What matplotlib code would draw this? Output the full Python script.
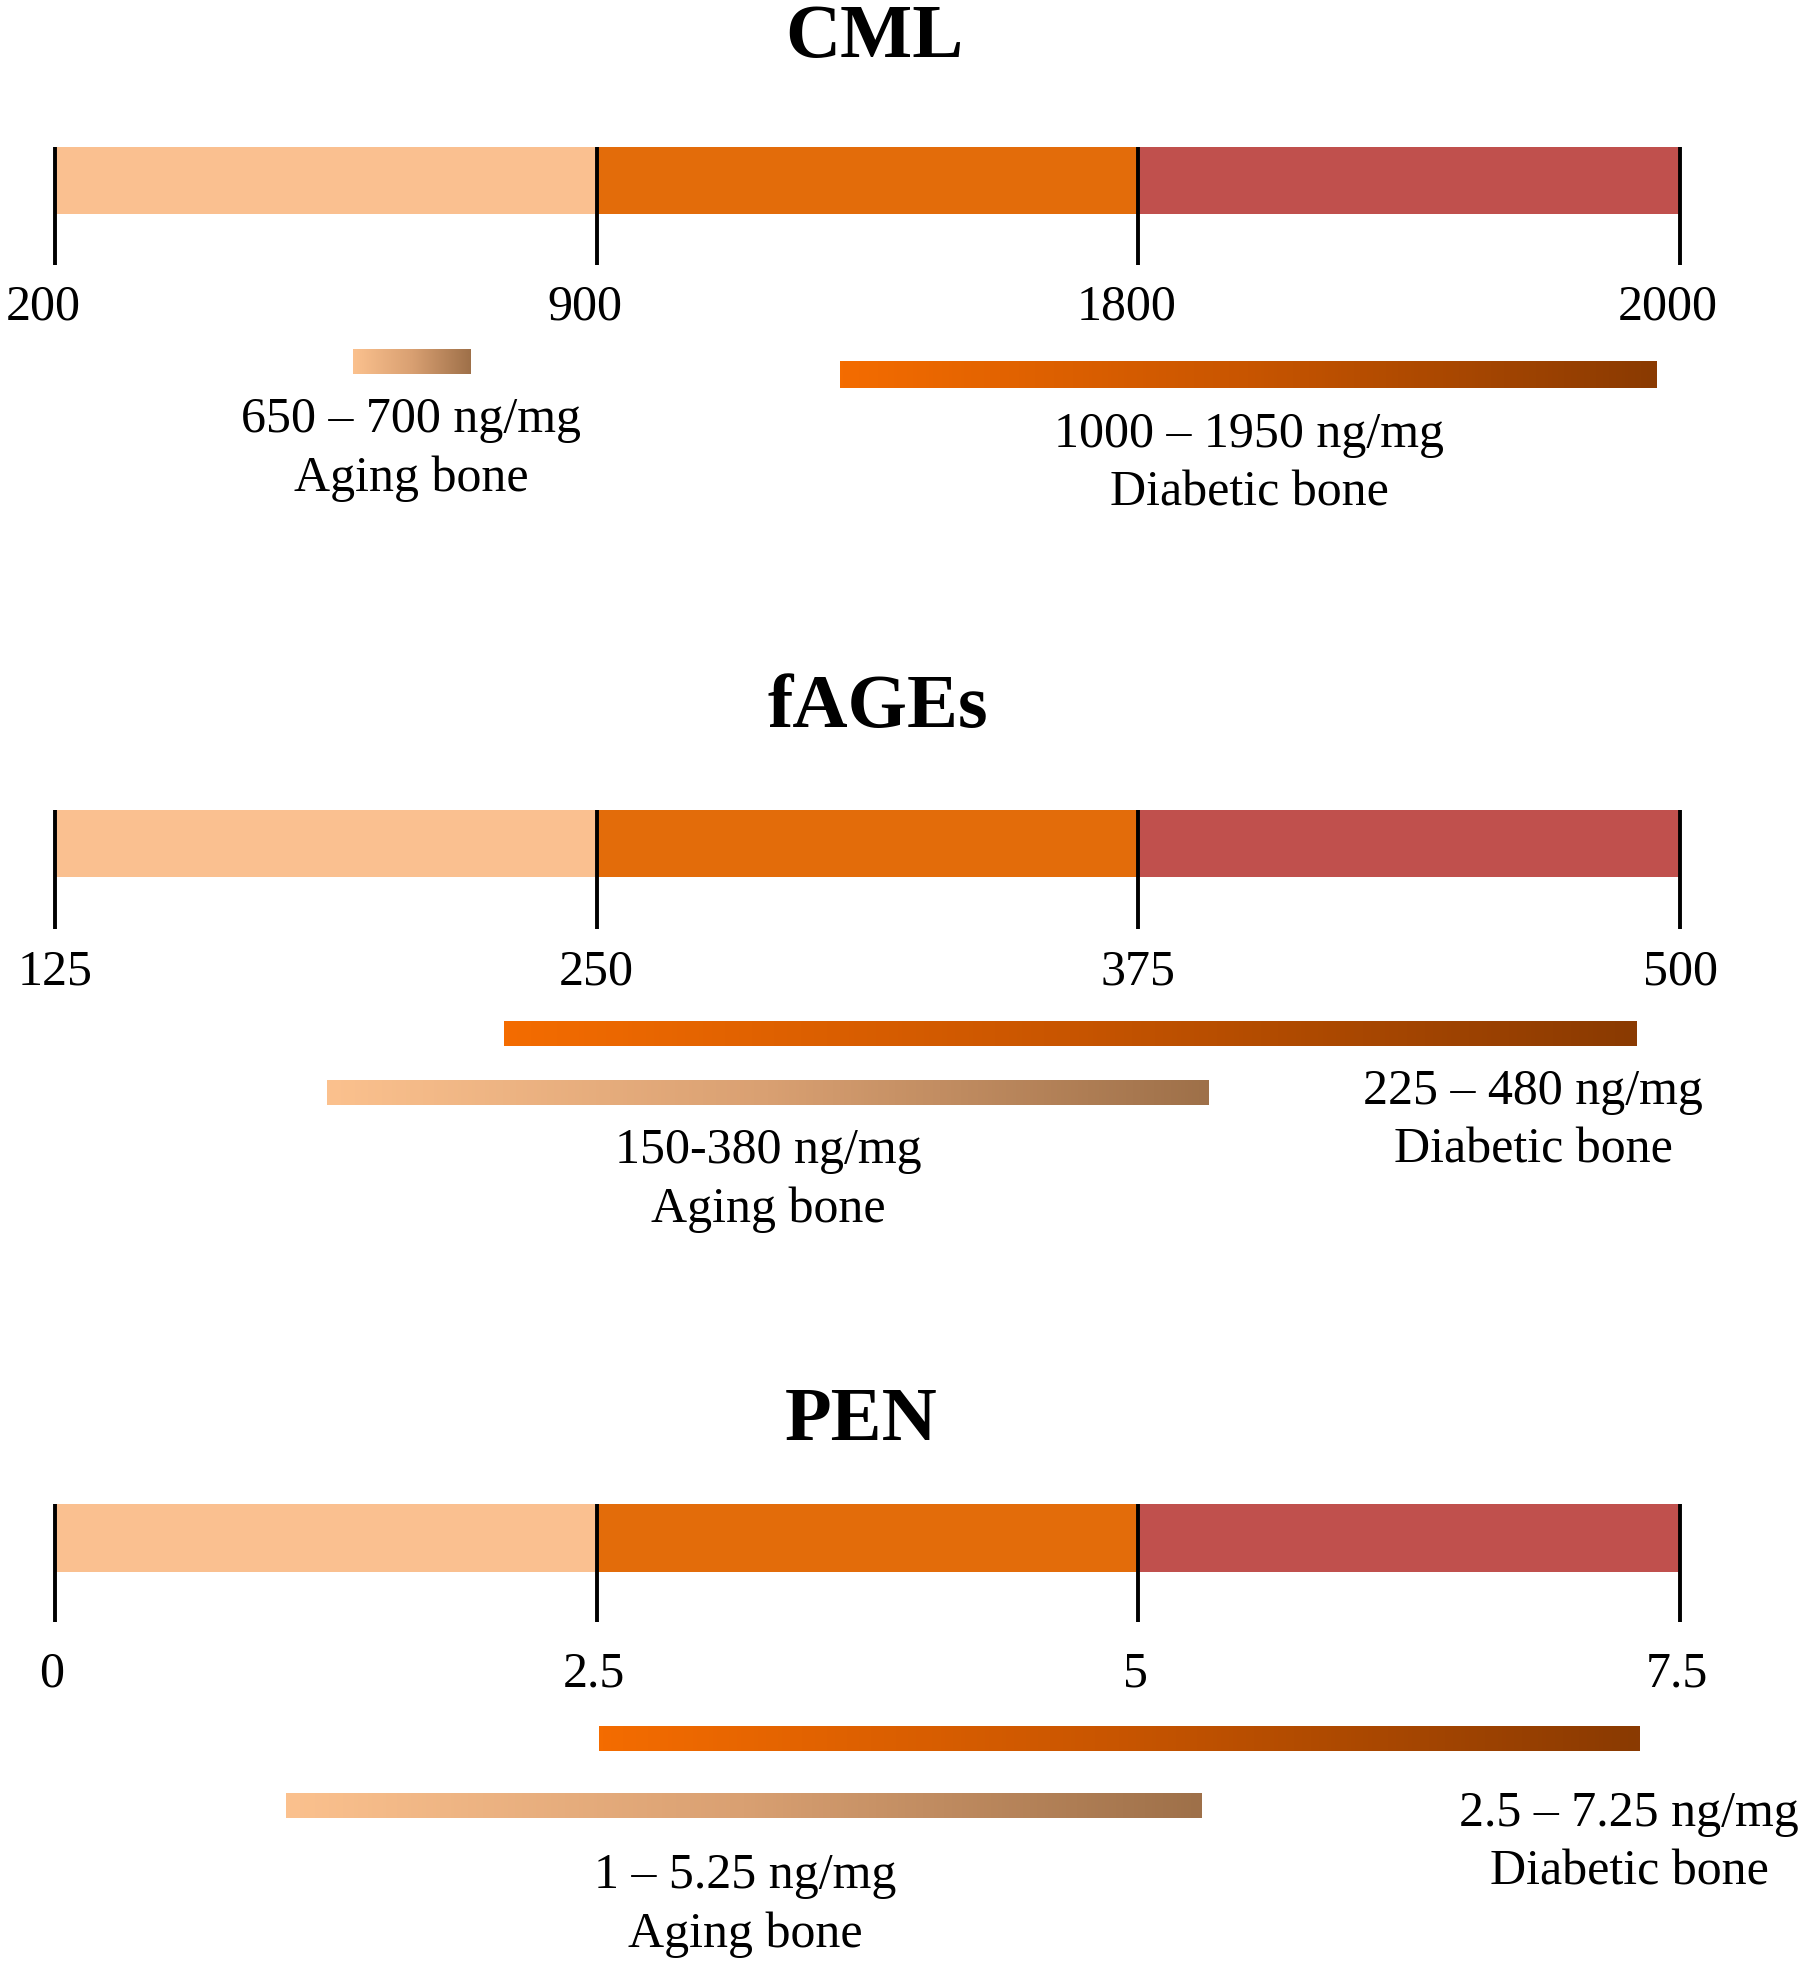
import numpy as np
import matplotlib
matplotlib.use('Agg')
import matplotlib.pyplot as plt
from matplotlib.colors import LinearSegmentedColormap

plt.rcParams['font.family'] = ['Liberation Serif', 'DejaVu Serif']

# --- data ---
titles = ['CML', 'fAGEs', 'PEN']
cml_ticks = ['200', '900', '1800', '2000']
fages_ticks = ['125', '250', '375', '500']
pen_ticks = ['0', '2.5', '5', '7.5']
# range bars drawn on the segment scale (0..3 = first..last tick)
cml_aging = [0.55, 0.767]
cml_diab = [1.449, 2.956]
fages_aging = [0.503, 2.13]
fages_diab = [0.829, 2.92]
pen_aging = [0.426, 2.117]
pen_diab = [1.005, 2.926]
cml_labels = ['650 \u2013 700 ng/mg\nAging bone', '1000 \u2013 1950 ng/mg\nDiabetic bone']
fages_labels = ['150-380 ng/mg\nAging bone', '225 \u2013 480 ng/mg\nDiabetic bone']
pen_labels = ['1 \u2013 5.25 ng/mg\nAging bone', '2.5 \u2013 7.25 ng/mg\nDiabetic bone']

seg_colors = ['#FAC090', '#E36C0A', '#C0504D']
aging_cmap = LinearSegmentedColormap.from_list('aging', ['#FBC18E', '#D9A072', '#9E7049'])
diab_cmap = LinearSegmentedColormap.from_list('diab', ['#F46C00', '#C85500', '#8A3A02'])

W, H = 1800, 1967
X0, X1 = 55, 1680   # pixel span of the 0..3 scale

fig = plt.figure(figsize=(18, 19.67), dpi=100)

def px(x, y):
    return x / W, 1 - y / H

# layout in pixels (from figure top)
layout = [
    dict(title=(874, 38), bar=(147, 214), tick_bot=265, lab_y=307, lab_dx=-12,
         aging=(349, 374), diab=(362, 388), aging_txt=(411, 449), diab_txt=(1249, 464)),
    dict(title=(878, 709), bar=(810, 877), tick_bot=929, lab_y=972, lab_dx=0,
         aging=(1080, 1105), diab=(1021, 1046), aging_txt=(768, 1180), diab_txt=(1533, 1121)),
    dict(title=(861, 1421), bar=(1504, 1572), tick_bot=1622, lab_y=1674, lab_dx=-3,
         aging=(1793, 1818), diab=(1726, 1751), aging_txt=(745, 1905), diab_txt=(1629, 1843)),
]
tick_sets = [cml_ticks, fages_ticks, pen_ticks]
aging_sets = [cml_aging, fages_aging, pen_aging]
diab_sets = [cml_diab, fages_diab, pen_diab]
label_sets = [cml_labels, fages_labels, pen_labels]

ax = fig.add_axes([X0 / W, 0, (X1 - X0) / W, 1])
ax.axis('off')
unit = (X1 - X0) / 3.0
grad = np.linspace(0, 1, 256).reshape(1, -1)

for i, lay in enumerate(layout):
    tx, ty = lay['title']
    fig.text(*px(tx, ty), titles[i], ha='center', va='center', fontsize=55, fontweight='bold')

    top, bot = lay['bar']
    for k in range(3):
        ax.barh((top + bot) / 2, 1, left=k, height=bot - top, color=seg_colors[k], linewidth=0)
    ax.vlines(range(4), top, lay['tick_bot'], color='black', linewidth=2.8, clip_on=False)
    for k, lab in enumerate(tick_sets[i]):
        ax.text(k + lay['lab_dx'] / unit, lay['lab_y'], lab, ha='center', va='center', fontsize=36)

    a0, a1 = aging_sets[i]
    y0, y1 = lay['aging']
    ax.imshow(grad, cmap=aging_cmap, extent=[a0, a1, y1, y0], aspect='auto')
    d0, d1 = diab_sets[i]
    y0, y1 = lay['diab']
    ax.imshow(grad, cmap=diab_cmap, extent=[d0, d1, y1, y0], aspect='auto')

    atx, aty = lay['aging_txt']
    fig.text(*px(atx, aty), label_sets[i][0], ha='center', va='center', fontsize=36, linespacing=1.36)
    dtx, dty = lay['diab_txt']
    fig.text(*px(dtx, dty), label_sets[i][1], ha='center', va='center', fontsize=36, linespacing=1.36)

ax.set_xlim(0, 3)
ax.set_ylim(H, 0)

fig.savefig('out.png', dpi=100, facecolor='white')
